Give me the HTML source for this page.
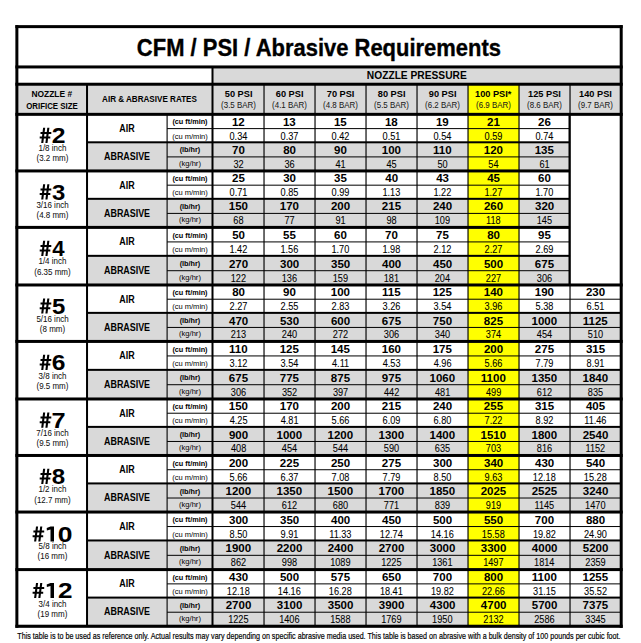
<!DOCTYPE html>
<html><head><meta charset="utf-8"><title>CFM / PSI / Abrasive Requirements</title>
<style>
html,body{margin:0;padding:0;background:#fff;width:641px;height:643px;overflow:hidden}
svg{display:block}
text{font-family:"Liberation Sans",sans-serif}
</style></head><body>
<svg width="641" height="643" viewBox="0 0 641 643">
<rect x="0" y="0" width="641" height="643" fill="#fff"/>
<rect x="212.50" y="66.95" width="408.70" height="17.28" fill="#d9d9d9"/>
<rect x="16.87" y="84.23" width="604.33" height="30.11" fill="#d9d9d9"/>
<rect x="468.03" y="84.23" width="51.00" height="542.04" fill="#ffff00"/>
<rect x="87.03" y="142.30" width="125.47" height="28.64" fill="#d9d9d9"/>
<rect x="212.50" y="142.30" width="51.53" height="28.64" fill="#d9d9d9"/>
<rect x="264.03" y="142.30" width="51.00" height="28.64" fill="#d9d9d9"/>
<rect x="315.03" y="142.30" width="51.00" height="28.64" fill="#d9d9d9"/>
<rect x="366.03" y="142.30" width="51.00" height="28.64" fill="#d9d9d9"/>
<rect x="417.03" y="142.30" width="51.00" height="28.64" fill="#d9d9d9"/>
<rect x="519.03" y="142.30" width="51.00" height="28.64" fill="#d9d9d9"/>
<rect x="87.03" y="198.83" width="125.47" height="28.57" fill="#d9d9d9"/>
<rect x="212.50" y="198.83" width="51.53" height="28.57" fill="#d9d9d9"/>
<rect x="264.03" y="198.83" width="51.00" height="28.57" fill="#d9d9d9"/>
<rect x="315.03" y="198.83" width="51.00" height="28.57" fill="#d9d9d9"/>
<rect x="366.03" y="198.83" width="51.00" height="28.57" fill="#d9d9d9"/>
<rect x="417.03" y="198.83" width="51.00" height="28.57" fill="#d9d9d9"/>
<rect x="519.03" y="198.83" width="51.00" height="28.57" fill="#d9d9d9"/>
<rect x="87.03" y="255.84" width="125.47" height="29.14" fill="#d9d9d9"/>
<rect x="212.50" y="255.84" width="51.53" height="29.14" fill="#d9d9d9"/>
<rect x="264.03" y="255.84" width="51.00" height="29.14" fill="#d9d9d9"/>
<rect x="315.03" y="255.84" width="51.00" height="29.14" fill="#d9d9d9"/>
<rect x="366.03" y="255.84" width="51.00" height="29.14" fill="#d9d9d9"/>
<rect x="417.03" y="255.84" width="51.00" height="29.14" fill="#d9d9d9"/>
<rect x="519.03" y="255.84" width="51.00" height="29.14" fill="#d9d9d9"/>
<rect x="87.03" y="312.87" width="125.47" height="28.56" fill="#d9d9d9"/>
<rect x="212.50" y="312.87" width="51.53" height="28.56" fill="#d9d9d9"/>
<rect x="264.03" y="312.87" width="51.00" height="28.56" fill="#d9d9d9"/>
<rect x="315.03" y="312.87" width="51.00" height="28.56" fill="#d9d9d9"/>
<rect x="366.03" y="312.87" width="51.00" height="28.56" fill="#d9d9d9"/>
<rect x="417.03" y="312.87" width="51.00" height="28.56" fill="#d9d9d9"/>
<rect x="519.03" y="312.87" width="51.00" height="28.56" fill="#d9d9d9"/>
<rect x="570.03" y="312.87" width="51.17" height="28.56" fill="#d9d9d9"/>
<rect x="87.03" y="369.86" width="125.47" height="29.12" fill="#d9d9d9"/>
<rect x="212.50" y="369.86" width="51.53" height="29.12" fill="#d9d9d9"/>
<rect x="264.03" y="369.86" width="51.00" height="29.12" fill="#d9d9d9"/>
<rect x="315.03" y="369.86" width="51.00" height="29.12" fill="#d9d9d9"/>
<rect x="366.03" y="369.86" width="51.00" height="29.12" fill="#d9d9d9"/>
<rect x="417.03" y="369.86" width="51.00" height="29.12" fill="#d9d9d9"/>
<rect x="519.03" y="369.86" width="51.00" height="29.12" fill="#d9d9d9"/>
<rect x="570.03" y="369.86" width="51.17" height="29.12" fill="#d9d9d9"/>
<rect x="87.03" y="426.89" width="125.47" height="28.58" fill="#d9d9d9"/>
<rect x="212.50" y="426.89" width="51.53" height="28.58" fill="#d9d9d9"/>
<rect x="264.03" y="426.89" width="51.00" height="28.58" fill="#d9d9d9"/>
<rect x="315.03" y="426.89" width="51.00" height="28.58" fill="#d9d9d9"/>
<rect x="366.03" y="426.89" width="51.00" height="28.58" fill="#d9d9d9"/>
<rect x="417.03" y="426.89" width="51.00" height="28.58" fill="#d9d9d9"/>
<rect x="519.03" y="426.89" width="51.00" height="28.58" fill="#d9d9d9"/>
<rect x="570.03" y="426.89" width="51.17" height="28.58" fill="#d9d9d9"/>
<rect x="87.03" y="483.42" width="125.47" height="28.62" fill="#d9d9d9"/>
<rect x="212.50" y="483.42" width="51.53" height="28.62" fill="#d9d9d9"/>
<rect x="264.03" y="483.42" width="51.00" height="28.62" fill="#d9d9d9"/>
<rect x="315.03" y="483.42" width="51.00" height="28.62" fill="#d9d9d9"/>
<rect x="366.03" y="483.42" width="51.00" height="28.62" fill="#d9d9d9"/>
<rect x="417.03" y="483.42" width="51.00" height="28.62" fill="#d9d9d9"/>
<rect x="519.03" y="483.42" width="51.00" height="28.62" fill="#d9d9d9"/>
<rect x="570.03" y="483.42" width="51.17" height="28.62" fill="#d9d9d9"/>
<rect x="87.03" y="540.47" width="125.47" height="29.12" fill="#d9d9d9"/>
<rect x="212.50" y="540.47" width="51.53" height="29.12" fill="#d9d9d9"/>
<rect x="264.03" y="540.47" width="51.00" height="29.12" fill="#d9d9d9"/>
<rect x="315.03" y="540.47" width="51.00" height="29.12" fill="#d9d9d9"/>
<rect x="366.03" y="540.47" width="51.00" height="29.12" fill="#d9d9d9"/>
<rect x="417.03" y="540.47" width="51.00" height="29.12" fill="#d9d9d9"/>
<rect x="519.03" y="540.47" width="51.00" height="29.12" fill="#d9d9d9"/>
<rect x="570.03" y="540.47" width="51.17" height="29.12" fill="#d9d9d9"/>
<rect x="87.03" y="597.59" width="125.47" height="28.68" fill="#d9d9d9"/>
<rect x="212.50" y="597.59" width="51.53" height="28.68" fill="#d9d9d9"/>
<rect x="264.03" y="597.59" width="51.00" height="28.68" fill="#d9d9d9"/>
<rect x="315.03" y="597.59" width="51.00" height="28.68" fill="#d9d9d9"/>
<rect x="366.03" y="597.59" width="51.00" height="28.68" fill="#d9d9d9"/>
<rect x="417.03" y="597.59" width="51.00" height="28.68" fill="#d9d9d9"/>
<rect x="519.03" y="597.59" width="51.00" height="28.68" fill="#d9d9d9"/>
<rect x="570.03" y="597.59" width="51.17" height="28.68" fill="#d9d9d9"/>
<rect x="263.45" y="84.23" width="1.15" height="542.04" fill="#000"/>
<rect x="314.45" y="84.23" width="1.15" height="542.04" fill="#000"/>
<rect x="365.45" y="84.23" width="1.15" height="542.04" fill="#000"/>
<rect x="416.45" y="84.23" width="1.15" height="542.04" fill="#000"/>
<rect x="467.45" y="84.23" width="1.15" height="542.04" fill="#000"/>
<rect x="518.45" y="84.23" width="1.15" height="542.04" fill="#000"/>
<rect x="569.45" y="84.23" width="1.15" height="542.04" fill="#000"/>
<rect x="166.55" y="114.34" width="1.10" height="511.93" fill="#000"/>
<rect x="167.10" y="128.10" width="402.93" height="1.00" fill="#000"/>
<rect x="167.10" y="156.40" width="402.93" height="1.00" fill="#000"/>
<rect x="87.03" y="141.30" width="483.00" height="2.00" fill="#000"/>
<rect x="15.37" y="112.84" width="607.33" height="3.00" fill="#000"/>
<rect x="167.10" y="184.67" width="402.93" height="1.00" fill="#000"/>
<rect x="167.10" y="212.90" width="402.93" height="1.00" fill="#000"/>
<rect x="87.03" y="197.83" width="483.00" height="2.00" fill="#000"/>
<rect x="15.37" y="169.44" width="554.66" height="3.00" fill="#000"/>
<rect x="167.10" y="241.41" width="402.93" height="1.00" fill="#000"/>
<rect x="167.10" y="270.20" width="402.93" height="1.00" fill="#000"/>
<rect x="87.03" y="254.84" width="483.00" height="2.00" fill="#000"/>
<rect x="15.37" y="225.90" width="554.66" height="3.00" fill="#000"/>
<rect x="167.10" y="298.71" width="454.10" height="1.00" fill="#000"/>
<rect x="167.10" y="326.93" width="454.10" height="1.00" fill="#000"/>
<rect x="87.03" y="311.87" width="534.17" height="2.00" fill="#000"/>
<rect x="15.37" y="283.48" width="607.33" height="3.00" fill="#000"/>
<rect x="167.10" y="355.43" width="454.10" height="1.00" fill="#000"/>
<rect x="167.10" y="384.21" width="454.10" height="1.00" fill="#000"/>
<rect x="87.03" y="368.86" width="534.17" height="2.00" fill="#000"/>
<rect x="15.37" y="339.93" width="607.33" height="3.00" fill="#000"/>
<rect x="167.10" y="412.72" width="454.10" height="1.00" fill="#000"/>
<rect x="167.10" y="440.96" width="454.10" height="1.00" fill="#000"/>
<rect x="87.03" y="425.89" width="534.17" height="2.00" fill="#000"/>
<rect x="15.37" y="397.48" width="607.33" height="3.00" fill="#000"/>
<rect x="167.10" y="469.23" width="454.10" height="1.00" fill="#000"/>
<rect x="167.10" y="497.51" width="454.10" height="1.00" fill="#000"/>
<rect x="87.03" y="482.42" width="534.17" height="2.00" fill="#000"/>
<rect x="15.37" y="453.97" width="607.33" height="3.00" fill="#000"/>
<rect x="167.10" y="526.04" width="454.10" height="1.00" fill="#000"/>
<rect x="167.10" y="554.82" width="454.10" height="1.00" fill="#000"/>
<rect x="87.03" y="539.47" width="534.17" height="2.00" fill="#000"/>
<rect x="15.37" y="510.54" width="607.33" height="3.00" fill="#000"/>
<rect x="167.10" y="583.37" width="454.10" height="1.00" fill="#000"/>
<rect x="167.10" y="611.71" width="454.10" height="1.00" fill="#000"/>
<rect x="87.03" y="596.59" width="534.17" height="2.00" fill="#000"/>
<rect x="15.37" y="568.09" width="607.33" height="3.00" fill="#000"/>
<rect x="568.50" y="114.34" width="2.00" height="170.64" fill="#000"/>
<rect x="211.50" y="66.95" width="2.00" height="559.32" fill="#000"/>
<rect x="86.03" y="84.23" width="2.00" height="542.04" fill="#000"/>
<rect x="15.37" y="25.13" width="607.33" height="3.00" fill="#000"/>
<rect x="15.37" y="65.45" width="607.33" height="3.00" fill="#000"/>
<rect x="15.37" y="82.73" width="607.33" height="3.00" fill="#000"/>
<rect x="15.37" y="624.72" width="607.33" height="3.10" fill="#000"/>
<rect x="15.37" y="25.13" width="3.00" height="602.69" fill="#000"/>
<rect x="619.70" y="25.13" width="3.00" height="602.69" fill="#000"/>
<text transform="translate(136.87,55.60) scale(0.9553,1)" font-size="23.00" font-weight="bold" fill="#000" stroke="#000" stroke-width="0.35">CFM / PSI / Abrasive Requirements</text>
<text transform="translate(366.82,79.00) scale(0.9936,1)" font-size="10.30" font-weight="bold" fill="#000">NOZZLE PRESSURE</text>
<text transform="translate(31.44,96.80) scale(0.9675,1)" font-size="8.70" font-weight="bold" fill="#000">NOZZLE #</text>
<text transform="translate(26.19,109.00) scale(0.9049,1)" font-size="8.70" font-weight="bold" fill="#000">ORIFICE SIZE</text>
<text transform="translate(102.04,101.70) scale(0.9317,1)" font-size="8.70" font-weight="bold" fill="#000">AIR &amp; ABRASIVE RATES</text>
<text transform="translate(224.82,97.00) scale(0.9411,1)" font-size="9.80" font-weight="bold" fill="#000">50 PSI</text>
<text transform="translate(221.11,108.40) scale(0.9658,1)" font-size="8.20" font-weight="normal" fill="#1a1a1a" stroke="#1a1a1a" stroke-width="0.05">(3.5 BAR)</text>
<text transform="translate(275.80,97.00) scale(0.9411,1)" font-size="9.80" font-weight="bold" fill="#000">60 PSI</text>
<text transform="translate(272.11,108.40) scale(0.9658,1)" font-size="8.20" font-weight="normal" fill="#1a1a1a" stroke="#1a1a1a" stroke-width="0.05">(4.1 BAR)</text>
<text transform="translate(326.77,97.00) scale(0.9411,1)" font-size="9.80" font-weight="bold" fill="#000">70 PSI</text>
<text transform="translate(323.11,108.40) scale(0.9658,1)" font-size="8.20" font-weight="normal" fill="#1a1a1a" stroke="#1a1a1a" stroke-width="0.05">(4.8 BAR)</text>
<text transform="translate(377.81,97.00) scale(0.9411,1)" font-size="9.80" font-weight="bold" fill="#000">80 PSI</text>
<text transform="translate(374.11,108.40) scale(0.9658,1)" font-size="8.20" font-weight="normal" fill="#1a1a1a" stroke="#1a1a1a" stroke-width="0.05">(5.5 BAR)</text>
<text transform="translate(428.80,97.00) scale(0.9411,1)" font-size="9.80" font-weight="bold" fill="#000">90 PSI</text>
<text transform="translate(425.11,108.40) scale(0.9658,1)" font-size="8.20" font-weight="normal" fill="#1a1a1a" stroke="#1a1a1a" stroke-width="0.05">(6.2 BAR)</text>
<text transform="translate(475.02,97.00) scale(0.9411,1)" font-size="9.80" font-weight="bold" fill="#000">100 PSI*</text>
<text transform="translate(476.11,108.40) scale(0.9658,1)" font-size="8.20" font-weight="normal" fill="#1a1a1a" stroke="#1a1a1a" stroke-width="0.05">(6.9 BAR)</text>
<text transform="translate(528.11,97.00) scale(0.9411,1)" font-size="9.80" font-weight="bold" fill="#000">125 PSI</text>
<text transform="translate(527.11,108.40) scale(0.9658,1)" font-size="8.20" font-weight="normal" fill="#1a1a1a" stroke="#1a1a1a" stroke-width="0.05">(8.6 BAR)</text>
<text transform="translate(579.11,97.00) scale(0.9411,1)" font-size="9.80" font-weight="bold" fill="#000">140 PSI</text>
<text transform="translate(578.11,108.40) scale(0.9658,1)" font-size="8.20" font-weight="normal" fill="#1a1a1a" stroke="#1a1a1a" stroke-width="0.05">(9.7 BAR)</text>
<path d="M43.10,127.80 L45.20,127.80 L43.30,143.00 L41.20,143.00 Z M47.30,127.80 L49.40,127.80 L47.50,143.00 L45.40,143.00 Z M40.50,131.90 L51.30,131.90 L51.30,133.90 L40.50,133.90 Z M39.70,136.60 L50.30,136.60 L50.30,138.60 L39.70,138.60 Z" fill="#000" shape-rendering="geometricPrecision"/>
<text transform="translate(51.76,143.00) scale(1.1325,1)" font-size="21.80" font-weight="bold" fill="#000">2</text>
<text transform="translate(38.45,151.20) scale(0.9631,1)" font-size="8.30" font-weight="normal" fill="#111" stroke="#111" stroke-width="0.05">1/8 inch</text>
<text transform="translate(36.50,160.70) scale(0.9631,1)" font-size="8.30" font-weight="normal" fill="#111" stroke="#111" stroke-width="0.05">(3.2 mm)</text>
<text transform="translate(119.29,131.97) scale(0.8830,1)" font-size="10.10" font-weight="bold" fill="#000">AIR</text>
<text transform="translate(104.02,160.17) scale(0.8830,1)" font-size="10.10" font-weight="bold" fill="#000">ABRASIVE</text>
<text transform="translate(172.39,124.37) scale(0.9983,1)" font-size="7.30" font-weight="bold" fill="#000">(cu ft/min)</text>
<text transform="translate(172.13,138.60) scale(1.0363,1)" font-size="7.30" font-weight="normal" fill="#000">(cu m/min)</text>
<text transform="translate(179.67,152.45) scale(0.9983,1)" font-size="7.30" font-weight="bold" fill="#000">(lb/hr)</text>
<text transform="translate(179.07,165.92) scale(1.0363,1)" font-size="7.30" font-weight="normal" fill="#000">(kg/hr)</text>
<text transform="translate(231.96,125.77) scale(1.0684,1)" font-size="10.80" font-weight="bold" fill="#000">12</text>
<text transform="translate(229.52,139.60) scale(0.9002,1)" font-size="10.20" font-weight="normal" fill="#000" stroke="#000" stroke-width="0.08">0.34</text>
<text transform="translate(232.07,153.95) scale(1.0684,1)" font-size="10.80" font-weight="bold" fill="#000">70</text>
<text transform="translate(233.45,167.72) scale(0.9002,1)" font-size="10.20" font-weight="normal" fill="#000" stroke="#000" stroke-width="0.08">32</text>
<text transform="translate(282.93,125.77) scale(1.0684,1)" font-size="10.80" font-weight="bold" fill="#000">13</text>
<text transform="translate(280.62,139.60) scale(0.9002,1)" font-size="10.20" font-weight="normal" fill="#000" stroke="#000" stroke-width="0.08">0.37</text>
<text transform="translate(283.13,153.95) scale(1.0684,1)" font-size="10.80" font-weight="bold" fill="#000">80</text>
<text transform="translate(284.42,167.72) scale(0.9002,1)" font-size="10.20" font-weight="normal" fill="#000" stroke="#000" stroke-width="0.08">36</text>
<text transform="translate(333.89,125.77) scale(1.0684,1)" font-size="10.80" font-weight="bold" fill="#000">15</text>
<text transform="translate(331.62,139.60) scale(0.9002,1)" font-size="10.20" font-weight="normal" fill="#000" stroke="#000" stroke-width="0.08">0.42</text>
<text transform="translate(334.12,153.95) scale(1.0684,1)" font-size="10.80" font-weight="bold" fill="#000">90</text>
<text transform="translate(335.51,167.72) scale(0.9002,1)" font-size="10.20" font-weight="normal" fill="#000" stroke="#000" stroke-width="0.08">41</text>
<text transform="translate(384.90,125.77) scale(1.0684,1)" font-size="10.80" font-weight="bold" fill="#000">18</text>
<text transform="translate(382.61,139.60) scale(0.9002,1)" font-size="10.20" font-weight="normal" fill="#000" stroke="#000" stroke-width="0.08">0.51</text>
<text transform="translate(381.75,153.95) scale(1.0684,1)" font-size="10.80" font-weight="bold" fill="#000">100</text>
<text transform="translate(386.49,167.72) scale(0.9002,1)" font-size="10.20" font-weight="normal" fill="#000" stroke="#000" stroke-width="0.08">45</text>
<text transform="translate(435.93,125.77) scale(1.0684,1)" font-size="10.80" font-weight="bold" fill="#000">19</text>
<text transform="translate(433.52,139.60) scale(0.9002,1)" font-size="10.20" font-weight="normal" fill="#000" stroke="#000" stroke-width="0.08">0.54</text>
<text transform="translate(433.06,153.95) scale(1.0684,1)" font-size="10.80" font-weight="bold" fill="#000">110</text>
<text transform="translate(437.39,167.72) scale(0.9002,1)" font-size="10.20" font-weight="normal" fill="#000" stroke="#000" stroke-width="0.08">50</text>
<text transform="translate(487.05,125.77) scale(1.0684,1)" font-size="10.80" font-weight="bold" fill="#000">21</text>
<text transform="translate(484.61,139.60) scale(0.9002,1)" font-size="10.20" font-weight="normal" fill="#000" stroke="#000" stroke-width="0.08">0.59</text>
<text transform="translate(483.75,153.95) scale(1.0684,1)" font-size="10.80" font-weight="bold" fill="#000">120</text>
<text transform="translate(488.34,167.72) scale(0.9002,1)" font-size="10.20" font-weight="normal" fill="#000" stroke="#000" stroke-width="0.08">54</text>
<text transform="translate(538.10,125.77) scale(1.0684,1)" font-size="10.80" font-weight="bold" fill="#000">26</text>
<text transform="translate(535.52,139.60) scale(0.9002,1)" font-size="10.20" font-weight="normal" fill="#000" stroke="#000" stroke-width="0.08">0.74</text>
<text transform="translate(534.68,153.95) scale(1.0684,1)" font-size="10.80" font-weight="bold" fill="#000">135</text>
<text transform="translate(539.39,167.72) scale(0.9002,1)" font-size="10.20" font-weight="normal" fill="#000" stroke="#000" stroke-width="0.08">61</text>
<path d="M43.10,184.30 L45.20,184.30 L43.30,199.50 L41.20,199.50 Z M47.30,184.30 L49.40,184.30 L47.50,199.50 L45.40,199.50 Z M40.50,188.40 L51.30,188.40 L51.30,190.40 L40.50,190.40 Z M39.70,193.10 L50.30,193.10 L50.30,195.10 L39.70,195.10 Z" fill="#000" shape-rendering="geometricPrecision"/>
<text transform="translate(52.07,199.50) scale(1.0961,1)" font-size="21.80" font-weight="bold" fill="#000">3</text>
<text transform="translate(36.38,207.80) scale(0.9631,1)" font-size="8.30" font-weight="normal" fill="#111" stroke="#111" stroke-width="0.05">3/16 inch</text>
<text transform="translate(36.50,218.30) scale(0.9631,1)" font-size="8.30" font-weight="normal" fill="#111" stroke="#111" stroke-width="0.05">(4.8 mm)</text>
<text transform="translate(119.29,188.54) scale(0.8830,1)" font-size="10.10" font-weight="bold" fill="#000">AIR</text>
<text transform="translate(104.02,216.67) scale(0.8830,1)" font-size="10.10" font-weight="bold" fill="#000">ABRASIVE</text>
<text transform="translate(172.39,180.95) scale(0.9983,1)" font-size="7.30" font-weight="bold" fill="#000">(cu ft/min)</text>
<text transform="translate(172.13,195.15) scale(1.0363,1)" font-size="7.30" font-weight="normal" fill="#000">(cu m/min)</text>
<text transform="translate(179.67,208.96) scale(0.9983,1)" font-size="7.30" font-weight="bold" fill="#000">(lb/hr)</text>
<text transform="translate(179.07,222.40) scale(1.0363,1)" font-size="7.30" font-weight="normal" fill="#000">(kg/hr)</text>
<text transform="translate(232.05,182.35) scale(1.0684,1)" font-size="10.80" font-weight="bold" fill="#000">25</text>
<text transform="translate(229.61,196.15) scale(0.9002,1)" font-size="10.20" font-weight="normal" fill="#000" stroke="#000" stroke-width="0.08">0.71</text>
<text transform="translate(228.75,210.46) scale(1.0684,1)" font-size="10.80" font-weight="bold" fill="#000">150</text>
<text transform="translate(233.37,224.20) scale(0.9002,1)" font-size="10.20" font-weight="normal" fill="#000" stroke="#000" stroke-width="0.08">68</text>
<text transform="translate(283.19,182.35) scale(1.0684,1)" font-size="10.80" font-weight="bold" fill="#000">30</text>
<text transform="translate(280.58,196.15) scale(0.9002,1)" font-size="10.20" font-weight="normal" fill="#000" stroke="#000" stroke-width="0.08">0.85</text>
<text transform="translate(279.75,210.46) scale(1.0684,1)" font-size="10.80" font-weight="bold" fill="#000">170</text>
<text transform="translate(284.39,224.20) scale(0.9002,1)" font-size="10.20" font-weight="normal" fill="#000" stroke="#000" stroke-width="0.08">77</text>
<text transform="translate(334.12,182.35) scale(1.0684,1)" font-size="10.80" font-weight="bold" fill="#000">35</text>
<text transform="translate(331.61,196.15) scale(0.9002,1)" font-size="10.20" font-weight="normal" fill="#000" stroke="#000" stroke-width="0.08">0.99</text>
<text transform="translate(330.91,210.46) scale(1.0684,1)" font-size="10.80" font-weight="bold" fill="#000">200</text>
<text transform="translate(335.40,224.20) scale(0.9002,1)" font-size="10.20" font-weight="normal" fill="#000" stroke="#000" stroke-width="0.08">91</text>
<text transform="translate(385.23,182.35) scale(1.0684,1)" font-size="10.80" font-weight="bold" fill="#000">40</text>
<text transform="translate(382.42,196.15) scale(0.9002,1)" font-size="10.20" font-weight="normal" fill="#000" stroke="#000" stroke-width="0.08">1.13</text>
<text transform="translate(381.84,210.46) scale(1.0684,1)" font-size="10.80" font-weight="bold" fill="#000">215</text>
<text transform="translate(386.39,224.20) scale(0.9002,1)" font-size="10.20" font-weight="normal" fill="#000" stroke="#000" stroke-width="0.08">98</text>
<text transform="translate(436.21,182.35) scale(1.0684,1)" font-size="10.80" font-weight="bold" fill="#000">43</text>
<text transform="translate(433.45,196.15) scale(0.9002,1)" font-size="10.20" font-weight="normal" fill="#000" stroke="#000" stroke-width="0.08">1.22</text>
<text transform="translate(432.91,210.46) scale(1.0684,1)" font-size="10.80" font-weight="bold" fill="#000">240</text>
<text transform="translate(434.71,224.20) scale(0.9002,1)" font-size="10.20" font-weight="normal" fill="#000" stroke="#000" stroke-width="0.08">109</text>
<text transform="translate(487.17,182.35) scale(1.0684,1)" font-size="10.80" font-weight="bold" fill="#000">45</text>
<text transform="translate(484.45,196.15) scale(0.9002,1)" font-size="10.20" font-weight="normal" fill="#000" stroke="#000" stroke-width="0.08">1.27</text>
<text transform="translate(483.91,210.46) scale(1.0684,1)" font-size="10.80" font-weight="bold" fill="#000">260</text>
<text transform="translate(486.03,224.20) scale(0.9002,1)" font-size="10.20" font-weight="normal" fill="#000" stroke="#000" stroke-width="0.08">118</text>
<text transform="translate(538.11,182.35) scale(1.0684,1)" font-size="10.80" font-weight="bold" fill="#000">60</text>
<text transform="translate(535.39,196.15) scale(0.9002,1)" font-size="10.20" font-weight="normal" fill="#000" stroke="#000" stroke-width="0.08">1.70</text>
<text transform="translate(534.98,210.46) scale(1.0684,1)" font-size="10.80" font-weight="bold" fill="#000">320</text>
<text transform="translate(536.69,224.20) scale(0.9002,1)" font-size="10.20" font-weight="normal" fill="#000" stroke="#000" stroke-width="0.08">145</text>
<path d="M43.10,240.80 L45.20,240.80 L43.30,256.00 L41.20,256.00 Z M47.30,240.80 L49.40,240.80 L47.50,256.00 L45.40,256.00 Z M40.50,244.90 L51.30,244.90 L51.30,246.90 L40.50,246.90 Z M39.70,249.60 L50.30,249.60 L50.30,251.60 L39.70,251.60 Z" fill="#000" shape-rendering="geometricPrecision"/>
<text transform="translate(52.29,256.00) scale(1.0184,1)" font-size="21.80" font-weight="bold" fill="#000">4</text>
<text transform="translate(38.45,264.20) scale(0.9631,1)" font-size="8.30" font-weight="normal" fill="#111" stroke="#111" stroke-width="0.05">1/4 inch</text>
<text transform="translate(34.28,275.00) scale(0.9631,1)" font-size="8.30" font-weight="normal" fill="#111" stroke="#111" stroke-width="0.05">(6.35 mm)</text>
<text transform="translate(119.29,245.27) scale(0.8830,1)" font-size="10.10" font-weight="bold" fill="#000">AIR</text>
<text transform="translate(104.02,273.96) scale(0.8830,1)" font-size="10.10" font-weight="bold" fill="#000">ABRASIVE</text>
<text transform="translate(172.39,237.56) scale(0.9983,1)" font-size="7.30" font-weight="bold" fill="#000">(cu ft/min)</text>
<text transform="translate(172.13,252.03) scale(1.0363,1)" font-size="7.30" font-weight="normal" fill="#000">(cu m/min)</text>
<text transform="translate(179.67,266.12) scale(0.9983,1)" font-size="7.30" font-weight="bold" fill="#000">(lb/hr)</text>
<text transform="translate(179.07,279.84) scale(1.0363,1)" font-size="7.30" font-weight="normal" fill="#000">(kg/hr)</text>
<text transform="translate(232.14,238.96) scale(1.0684,1)" font-size="10.80" font-weight="bold" fill="#000">50</text>
<text transform="translate(229.45,253.03) scale(0.9002,1)" font-size="10.20" font-weight="normal" fill="#000" stroke="#000" stroke-width="0.08">1.42</text>
<text transform="translate(228.91,267.62) scale(1.0684,1)" font-size="10.80" font-weight="bold" fill="#000">270</text>
<text transform="translate(230.72,281.64) scale(0.9002,1)" font-size="10.20" font-weight="normal" fill="#000" stroke="#000" stroke-width="0.08">122</text>
<text transform="translate(283.07,238.96) scale(1.0684,1)" font-size="10.80" font-weight="bold" fill="#000">55</text>
<text transform="translate(280.42,253.03) scale(0.9002,1)" font-size="10.20" font-weight="normal" fill="#000" stroke="#000" stroke-width="0.08">1.56</text>
<text transform="translate(279.98,267.62) scale(1.0684,1)" font-size="10.80" font-weight="bold" fill="#000">300</text>
<text transform="translate(281.69,281.64) scale(0.9002,1)" font-size="10.20" font-weight="normal" fill="#000" stroke="#000" stroke-width="0.08">136</text>
<text transform="translate(334.11,238.96) scale(1.0684,1)" font-size="10.80" font-weight="bold" fill="#000">60</text>
<text transform="translate(331.39,253.03) scale(0.9002,1)" font-size="10.20" font-weight="normal" fill="#000" stroke="#000" stroke-width="0.08">1.70</text>
<text transform="translate(330.98,267.62) scale(1.0684,1)" font-size="10.80" font-weight="bold" fill="#000">350</text>
<text transform="translate(332.71,281.64) scale(0.9002,1)" font-size="10.20" font-weight="normal" fill="#000" stroke="#000" stroke-width="0.08">159</text>
<text transform="translate(385.07,238.96) scale(1.0684,1)" font-size="10.80" font-weight="bold" fill="#000">70</text>
<text transform="translate(382.42,253.03) scale(0.9002,1)" font-size="10.20" font-weight="normal" fill="#000" stroke="#000" stroke-width="0.08">1.98</text>
<text transform="translate(382.03,267.62) scale(1.0684,1)" font-size="10.80" font-weight="bold" fill="#000">400</text>
<text transform="translate(383.71,281.64) scale(0.9002,1)" font-size="10.20" font-weight="normal" fill="#000" stroke="#000" stroke-width="0.08">181</text>
<text transform="translate(436.00,238.96) scale(1.0684,1)" font-size="10.80" font-weight="bold" fill="#000">75</text>
<text transform="translate(433.57,253.03) scale(0.9002,1)" font-size="10.20" font-weight="normal" fill="#000" stroke="#000" stroke-width="0.08">2.12</text>
<text transform="translate(433.03,267.62) scale(1.0684,1)" font-size="10.80" font-weight="bold" fill="#000">450</text>
<text transform="translate(434.74,281.64) scale(0.9002,1)" font-size="10.20" font-weight="normal" fill="#000" stroke="#000" stroke-width="0.08">204</text>
<text transform="translate(487.13,238.96) scale(1.0684,1)" font-size="10.80" font-weight="bold" fill="#000">80</text>
<text transform="translate(484.57,253.03) scale(0.9002,1)" font-size="10.20" font-weight="normal" fill="#000" stroke="#000" stroke-width="0.08">2.27</text>
<text transform="translate(483.93,267.62) scale(1.0684,1)" font-size="10.80" font-weight="bold" fill="#000">500</text>
<text transform="translate(485.84,281.64) scale(0.9002,1)" font-size="10.20" font-weight="normal" fill="#000" stroke="#000" stroke-width="0.08">227</text>
<text transform="translate(538.05,238.96) scale(1.0684,1)" font-size="10.80" font-weight="bold" fill="#000">95</text>
<text transform="translate(535.56,253.03) scale(0.9002,1)" font-size="10.20" font-weight="normal" fill="#000" stroke="#000" stroke-width="0.08">2.69</text>
<text transform="translate(534.83,267.62) scale(1.0684,1)" font-size="10.80" font-weight="bold" fill="#000">675</text>
<text transform="translate(536.87,281.64) scale(0.9002,1)" font-size="10.20" font-weight="normal" fill="#000" stroke="#000" stroke-width="0.08">306</text>
<path d="M43.10,298.40 L45.20,298.40 L43.30,313.60 L41.20,313.60 Z M47.30,298.40 L49.40,298.40 L47.50,313.60 L45.40,313.60 Z M40.50,302.50 L51.30,302.50 L51.30,304.50 L40.50,304.50 Z M39.70,307.20 L50.30,307.20 L50.30,309.20 L39.70,309.20 Z" fill="#000" shape-rendering="geometricPrecision"/>
<text transform="translate(51.88,313.60) scale(1.0961,1)" font-size="21.80" font-weight="bold" fill="#000">5</text>
<text transform="translate(36.38,321.80) scale(0.9631,1)" font-size="8.30" font-weight="normal" fill="#111" stroke="#111" stroke-width="0.05">5/16 inch</text>
<text transform="translate(39.84,331.80) scale(0.9631,1)" font-size="8.30" font-weight="normal" fill="#111" stroke="#111" stroke-width="0.05">(8 mm)</text>
<text transform="translate(119.29,302.57) scale(0.8830,1)" font-size="10.10" font-weight="bold" fill="#000">AIR</text>
<text transform="translate(104.02,330.70) scale(0.8830,1)" font-size="10.10" font-weight="bold" fill="#000">ABRASIVE</text>
<text transform="translate(172.39,294.99) scale(0.9983,1)" font-size="7.30" font-weight="bold" fill="#000">(cu ft/min)</text>
<text transform="translate(172.13,309.19) scale(1.0363,1)" font-size="7.30" font-weight="normal" fill="#000">(cu m/min)</text>
<text transform="translate(179.67,323.00) scale(0.9983,1)" font-size="7.30" font-weight="bold" fill="#000">(lb/hr)</text>
<text transform="translate(179.07,336.43) scale(1.0363,1)" font-size="7.30" font-weight="normal" fill="#000">(kg/hr)</text>
<text transform="translate(232.13,296.39) scale(1.0684,1)" font-size="10.80" font-weight="bold" fill="#000">80</text>
<text transform="translate(229.57,310.19) scale(0.9002,1)" font-size="10.20" font-weight="normal" fill="#000" stroke="#000" stroke-width="0.08">2.27</text>
<text transform="translate(229.03,324.50) scale(1.0684,1)" font-size="10.80" font-weight="bold" fill="#000">470</text>
<text transform="translate(230.81,338.23) scale(0.9002,1)" font-size="10.20" font-weight="normal" fill="#000" stroke="#000" stroke-width="0.08">213</text>
<text transform="translate(283.12,296.39) scale(1.0684,1)" font-size="10.80" font-weight="bold" fill="#000">90</text>
<text transform="translate(280.53,310.19) scale(0.9002,1)" font-size="10.20" font-weight="normal" fill="#000" stroke="#000" stroke-width="0.08">2.55</text>
<text transform="translate(279.93,324.50) scale(1.0684,1)" font-size="10.80" font-weight="bold" fill="#000">530</text>
<text transform="translate(281.79,338.23) scale(0.9002,1)" font-size="10.20" font-weight="normal" fill="#000" stroke="#000" stroke-width="0.08">240</text>
<text transform="translate(330.75,296.39) scale(1.0684,1)" font-size="10.80" font-weight="bold" fill="#000">100</text>
<text transform="translate(331.54,310.19) scale(0.9002,1)" font-size="10.20" font-weight="normal" fill="#000" stroke="#000" stroke-width="0.08">2.83</text>
<text transform="translate(330.90,324.50) scale(1.0684,1)" font-size="10.80" font-weight="bold" fill="#000">600</text>
<text transform="translate(332.84,338.23) scale(0.9002,1)" font-size="10.20" font-weight="normal" fill="#000" stroke="#000" stroke-width="0.08">272</text>
<text transform="translate(381.99,296.39) scale(1.0684,1)" font-size="10.80" font-weight="bold" fill="#000">115</text>
<text transform="translate(382.59,310.19) scale(0.9002,1)" font-size="10.20" font-weight="normal" fill="#000" stroke="#000" stroke-width="0.08">3.26</text>
<text transform="translate(381.83,324.50) scale(1.0684,1)" font-size="10.80" font-weight="bold" fill="#000">675</text>
<text transform="translate(383.87,338.23) scale(0.9002,1)" font-size="10.20" font-weight="normal" fill="#000" stroke="#000" stroke-width="0.08">306</text>
<text transform="translate(432.68,296.39) scale(1.0684,1)" font-size="10.80" font-weight="bold" fill="#000">125</text>
<text transform="translate(433.52,310.19) scale(0.9002,1)" font-size="10.20" font-weight="normal" fill="#000" stroke="#000" stroke-width="0.08">3.54</text>
<text transform="translate(432.87,324.50) scale(1.0684,1)" font-size="10.80" font-weight="bold" fill="#000">750</text>
<text transform="translate(434.84,338.23) scale(0.9002,1)" font-size="10.20" font-weight="normal" fill="#000" stroke="#000" stroke-width="0.08">340</text>
<text transform="translate(483.75,296.39) scale(1.0684,1)" font-size="10.80" font-weight="bold" fill="#000">140</text>
<text transform="translate(484.59,310.19) scale(0.9002,1)" font-size="10.20" font-weight="normal" fill="#000" stroke="#000" stroke-width="0.08">3.96</text>
<text transform="translate(483.85,324.50) scale(1.0684,1)" font-size="10.80" font-weight="bold" fill="#000">825</text>
<text transform="translate(485.80,338.23) scale(0.9002,1)" font-size="10.20" font-weight="normal" fill="#000" stroke="#000" stroke-width="0.08">374</text>
<text transform="translate(534.75,296.39) scale(1.0684,1)" font-size="10.80" font-weight="bold" fill="#000">190</text>
<text transform="translate(535.58,310.19) scale(0.9002,1)" font-size="10.20" font-weight="normal" fill="#000" stroke="#000" stroke-width="0.08">5.38</text>
<text transform="translate(531.54,324.50) scale(1.0684,1)" font-size="10.80" font-weight="bold" fill="#000">1000</text>
<text transform="translate(536.87,338.23) scale(0.9002,1)" font-size="10.20" font-weight="normal" fill="#000" stroke="#000" stroke-width="0.08">454</text>
<text transform="translate(585.91,296.39) scale(1.0684,1)" font-size="10.80" font-weight="bold" fill="#000">230</text>
<text transform="translate(586.56,310.19) scale(0.9002,1)" font-size="10.20" font-weight="normal" fill="#000" stroke="#000" stroke-width="0.08">6.51</text>
<text transform="translate(582.78,324.50) scale(1.0684,1)" font-size="10.80" font-weight="bold" fill="#000">1125</text>
<text transform="translate(587.83,338.23) scale(0.9002,1)" font-size="10.20" font-weight="normal" fill="#000" stroke="#000" stroke-width="0.08">510</text>
<path d="M43.10,354.80 L45.20,354.80 L43.30,370.00 L41.20,370.00 Z M47.30,354.80 L49.40,354.80 L47.50,370.00 L45.40,370.00 Z M40.50,358.90 L51.30,358.90 L51.30,360.90 L40.50,360.90 Z M39.70,363.60 L50.30,363.60 L50.30,365.60 L39.70,365.60 Z" fill="#000" shape-rendering="geometricPrecision"/>
<text transform="translate(51.71,370.00) scale(1.1278,1)" font-size="21.80" font-weight="bold" fill="#000">6</text>
<text transform="translate(38.61,379.00) scale(0.9631,1)" font-size="8.30" font-weight="normal" fill="#111" stroke="#111" stroke-width="0.05">3/8 inch</text>
<text transform="translate(36.50,389.00) scale(0.9631,1)" font-size="8.30" font-weight="normal" fill="#111" stroke="#111" stroke-width="0.05">(9.5 mm)</text>
<text transform="translate(119.29,359.29) scale(0.8830,1)" font-size="10.10" font-weight="bold" fill="#000">AIR</text>
<text transform="translate(104.02,387.97) scale(0.8830,1)" font-size="10.10" font-weight="bold" fill="#000">ABRASIVE</text>
<text transform="translate(172.39,351.58) scale(0.9983,1)" font-size="7.30" font-weight="bold" fill="#000">(cu ft/min)</text>
<text transform="translate(172.13,366.05) scale(1.0363,1)" font-size="7.30" font-weight="normal" fill="#000">(cu m/min)</text>
<text transform="translate(179.67,380.13) scale(0.9983,1)" font-size="7.30" font-weight="bold" fill="#000">(lb/hr)</text>
<text transform="translate(179.07,393.84) scale(1.0363,1)" font-size="7.30" font-weight="normal" fill="#000">(kg/hr)</text>
<text transform="translate(229.06,352.98) scale(1.0684,1)" font-size="10.80" font-weight="bold" fill="#000">110</text>
<text transform="translate(229.62,367.05) scale(0.9002,1)" font-size="10.20" font-weight="normal" fill="#000" stroke="#000" stroke-width="0.08">3.12</text>
<text transform="translate(228.83,381.63) scale(1.0684,1)" font-size="10.80" font-weight="bold" fill="#000">675</text>
<text transform="translate(230.87,395.64) scale(0.9002,1)" font-size="10.20" font-weight="normal" fill="#000" stroke="#000" stroke-width="0.08">306</text>
<text transform="translate(279.68,352.98) scale(1.0684,1)" font-size="10.80" font-weight="bold" fill="#000">125</text>
<text transform="translate(280.52,367.05) scale(0.9002,1)" font-size="10.20" font-weight="normal" fill="#000" stroke="#000" stroke-width="0.08">3.54</text>
<text transform="translate(279.80,381.63) scale(1.0684,1)" font-size="10.80" font-weight="bold" fill="#000">775</text>
<text transform="translate(281.90,395.64) scale(0.9002,1)" font-size="10.20" font-weight="normal" fill="#000" stroke="#000" stroke-width="0.08">352</text>
<text transform="translate(330.68,352.98) scale(1.0684,1)" font-size="10.80" font-weight="bold" fill="#000">145</text>
<text transform="translate(332.02,367.05) scale(0.9002,1)" font-size="10.20" font-weight="normal" fill="#000" stroke="#000" stroke-width="0.08">4.11</text>
<text transform="translate(330.85,381.63) scale(1.0684,1)" font-size="10.80" font-weight="bold" fill="#000">875</text>
<text transform="translate(332.90,395.64) scale(0.9002,1)" font-size="10.20" font-weight="normal" fill="#000" stroke="#000" stroke-width="0.08">397</text>
<text transform="translate(381.75,352.98) scale(1.0684,1)" font-size="10.80" font-weight="bold" fill="#000">160</text>
<text transform="translate(382.67,367.05) scale(0.9002,1)" font-size="10.20" font-weight="normal" fill="#000" stroke="#000" stroke-width="0.08">4.53</text>
<text transform="translate(381.84,381.63) scale(1.0684,1)" font-size="10.80" font-weight="bold" fill="#000">975</text>
<text transform="translate(383.97,395.64) scale(0.9002,1)" font-size="10.20" font-weight="normal" fill="#000" stroke="#000" stroke-width="0.08">442</text>
<text transform="translate(432.68,352.98) scale(1.0684,1)" font-size="10.80" font-weight="bold" fill="#000">175</text>
<text transform="translate(433.67,367.05) scale(0.9002,1)" font-size="10.20" font-weight="normal" fill="#000" stroke="#000" stroke-width="0.08">4.96</text>
<text transform="translate(429.54,381.63) scale(1.0684,1)" font-size="10.80" font-weight="bold" fill="#000">1060</text>
<text transform="translate(434.96,395.64) scale(0.9002,1)" font-size="10.20" font-weight="normal" fill="#000" stroke="#000" stroke-width="0.08">481</text>
<text transform="translate(483.91,352.98) scale(1.0684,1)" font-size="10.80" font-weight="bold" fill="#000">200</text>
<text transform="translate(484.58,367.05) scale(0.9002,1)" font-size="10.20" font-weight="normal" fill="#000" stroke="#000" stroke-width="0.08">5.66</text>
<text transform="translate(480.85,381.63) scale(1.0684,1)" font-size="10.80" font-weight="bold" fill="#000">1100</text>
<text transform="translate(485.96,395.64) scale(0.9002,1)" font-size="10.20" font-weight="normal" fill="#000" stroke="#000" stroke-width="0.08">499</text>
<text transform="translate(534.84,352.98) scale(1.0684,1)" font-size="10.80" font-weight="bold" fill="#000">275</text>
<text transform="translate(535.55,367.05) scale(0.9002,1)" font-size="10.20" font-weight="normal" fill="#000" stroke="#000" stroke-width="0.08">7.79</text>
<text transform="translate(531.54,381.63) scale(1.0684,1)" font-size="10.80" font-weight="bold" fill="#000">1350</text>
<text transform="translate(536.84,395.64) scale(0.9002,1)" font-size="10.20" font-weight="normal" fill="#000" stroke="#000" stroke-width="0.08">612</text>
<text transform="translate(585.91,352.98) scale(1.0684,1)" font-size="10.80" font-weight="bold" fill="#000">315</text>
<text transform="translate(586.58,367.05) scale(0.9002,1)" font-size="10.20" font-weight="normal" fill="#000" stroke="#000" stroke-width="0.08">8.91</text>
<text transform="translate(582.54,381.63) scale(1.0684,1)" font-size="10.80" font-weight="bold" fill="#000">1840</text>
<text transform="translate(587.83,395.64) scale(0.9002,1)" font-size="10.20" font-weight="normal" fill="#000" stroke="#000" stroke-width="0.08">835</text>
<path d="M43.10,412.50 L45.20,412.50 L43.30,427.70 L41.20,427.70 Z M47.30,412.50 L49.40,412.50 L47.50,427.70 L45.40,427.70 Z M40.50,416.60 L51.30,416.60 L51.30,418.60 L40.50,418.60 Z M39.70,421.30 L50.30,421.30 L50.30,423.30 L39.70,423.30 Z" fill="#000" shape-rendering="geometricPrecision"/>
<text transform="translate(51.54,427.70) scale(1.1614,1)" font-size="21.80" font-weight="bold" fill="#000">7</text>
<text transform="translate(36.33,436.00) scale(0.9631,1)" font-size="8.30" font-weight="normal" fill="#111" stroke="#111" stroke-width="0.05">7/16 inch</text>
<text transform="translate(36.50,445.50) scale(0.9631,1)" font-size="8.30" font-weight="normal" fill="#111" stroke="#111" stroke-width="0.05">(9.5 mm)</text>
<text transform="translate(119.29,416.58) scale(0.8830,1)" font-size="10.10" font-weight="bold" fill="#000">AIR</text>
<text transform="translate(104.02,444.73) scale(0.8830,1)" font-size="10.10" font-weight="bold" fill="#000">ABRASIVE</text>
<text transform="translate(172.39,409.00) scale(0.9983,1)" font-size="7.30" font-weight="bold" fill="#000">(cu ft/min)</text>
<text transform="translate(172.13,423.20) scale(1.0363,1)" font-size="7.30" font-weight="normal" fill="#000">(cu m/min)</text>
<text transform="translate(179.67,437.02) scale(0.9983,1)" font-size="7.30" font-weight="bold" fill="#000">(lb/hr)</text>
<text transform="translate(179.07,450.47) scale(1.0363,1)" font-size="7.30" font-weight="normal" fill="#000">(kg/hr)</text>
<text transform="translate(228.75,410.40) scale(1.0684,1)" font-size="10.80" font-weight="bold" fill="#000">150</text>
<text transform="translate(229.66,424.20) scale(0.9002,1)" font-size="10.20" font-weight="normal" fill="#000" stroke="#000" stroke-width="0.08">4.25</text>
<text transform="translate(228.91,438.52) scale(1.0684,1)" font-size="10.80" font-weight="bold" fill="#000">900</text>
<text transform="translate(230.94,452.27) scale(0.9002,1)" font-size="10.20" font-weight="normal" fill="#000" stroke="#000" stroke-width="0.08">408</text>
<text transform="translate(279.75,410.40) scale(1.0684,1)" font-size="10.80" font-weight="bold" fill="#000">170</text>
<text transform="translate(280.68,424.20) scale(0.9002,1)" font-size="10.20" font-weight="normal" fill="#000" stroke="#000" stroke-width="0.08">4.81</text>
<text transform="translate(276.54,438.52) scale(1.0684,1)" font-size="10.80" font-weight="bold" fill="#000">1000</text>
<text transform="translate(281.87,452.27) scale(0.9002,1)" font-size="10.20" font-weight="normal" fill="#000" stroke="#000" stroke-width="0.08">454</text>
<text transform="translate(330.91,410.40) scale(1.0684,1)" font-size="10.80" font-weight="bold" fill="#000">200</text>
<text transform="translate(331.58,424.20) scale(0.9002,1)" font-size="10.20" font-weight="normal" fill="#000" stroke="#000" stroke-width="0.08">5.66</text>
<text transform="translate(327.54,438.52) scale(1.0684,1)" font-size="10.80" font-weight="bold" fill="#000">1200</text>
<text transform="translate(332.79,452.27) scale(0.9002,1)" font-size="10.20" font-weight="normal" fill="#000" stroke="#000" stroke-width="0.08">544</text>
<text transform="translate(381.84,410.40) scale(1.0684,1)" font-size="10.80" font-weight="bold" fill="#000">215</text>
<text transform="translate(382.56,424.20) scale(0.9002,1)" font-size="10.20" font-weight="normal" fill="#000" stroke="#000" stroke-width="0.08">6.09</text>
<text transform="translate(378.54,438.52) scale(1.0684,1)" font-size="10.80" font-weight="bold" fill="#000">1300</text>
<text transform="translate(383.83,452.27) scale(0.9002,1)" font-size="10.20" font-weight="normal" fill="#000" stroke="#000" stroke-width="0.08">590</text>
<text transform="translate(432.91,410.40) scale(1.0684,1)" font-size="10.80" font-weight="bold" fill="#000">240</text>
<text transform="translate(433.51,424.20) scale(0.9002,1)" font-size="10.20" font-weight="normal" fill="#000" stroke="#000" stroke-width="0.08">6.80</text>
<text transform="translate(429.54,438.52) scale(1.0684,1)" font-size="10.80" font-weight="bold" fill="#000">1400</text>
<text transform="translate(434.81,452.27) scale(0.9002,1)" font-size="10.20" font-weight="normal" fill="#000" stroke="#000" stroke-width="0.08">635</text>
<text transform="translate(483.84,410.40) scale(1.0684,1)" font-size="10.80" font-weight="bold" fill="#000">255</text>
<text transform="translate(484.56,424.20) scale(0.9002,1)" font-size="10.20" font-weight="normal" fill="#000" stroke="#000" stroke-width="0.08">7.22</text>
<text transform="translate(480.54,438.52) scale(1.0684,1)" font-size="10.80" font-weight="bold" fill="#000">1510</text>
<text transform="translate(485.81,452.27) scale(0.9002,1)" font-size="10.20" font-weight="normal" fill="#000" stroke="#000" stroke-width="0.08">703</text>
<text transform="translate(534.91,410.40) scale(1.0684,1)" font-size="10.80" font-weight="bold" fill="#000">315</text>
<text transform="translate(535.59,424.20) scale(0.9002,1)" font-size="10.20" font-weight="normal" fill="#000" stroke="#000" stroke-width="0.08">8.92</text>
<text transform="translate(531.54,438.52) scale(1.0684,1)" font-size="10.80" font-weight="bold" fill="#000">1800</text>
<text transform="translate(536.84,452.27) scale(0.9002,1)" font-size="10.20" font-weight="normal" fill="#000" stroke="#000" stroke-width="0.08">816</text>
<text transform="translate(585.96,410.40) scale(1.0684,1)" font-size="10.80" font-weight="bold" fill="#000">405</text>
<text transform="translate(584.21,424.20) scale(0.9002,1)" font-size="10.20" font-weight="normal" fill="#000" stroke="#000" stroke-width="0.08">11.46</text>
<text transform="translate(582.70,438.52) scale(1.0684,1)" font-size="10.80" font-weight="bold" fill="#000">2540</text>
<text transform="translate(585.51,452.27) scale(0.9002,1)" font-size="10.20" font-weight="normal" fill="#000" stroke="#000" stroke-width="0.08">1152</text>
<path d="M43.10,468.80 L45.20,468.80 L43.30,484.00 L41.20,484.00 Z M47.30,468.80 L49.40,468.80 L47.50,484.00 L45.40,484.00 Z M40.50,472.90 L51.30,472.90 L51.30,474.90 L40.50,474.90 Z M39.70,477.60 L50.30,477.60 L50.30,479.60 L39.70,479.60 Z" fill="#000" shape-rendering="geometricPrecision"/>
<text transform="translate(51.83,484.00) scale(1.1050,1)" font-size="21.80" font-weight="bold" fill="#000">8</text>
<text transform="translate(38.45,492.20) scale(0.9631,1)" font-size="8.30" font-weight="normal" fill="#111" stroke="#111" stroke-width="0.05">1/2 inch</text>
<text transform="translate(34.28,503.00) scale(0.9631,1)" font-size="8.30" font-weight="normal" fill="#111" stroke="#111" stroke-width="0.05">(12.7 mm)</text>
<text transform="translate(119.29,473.09) scale(0.8830,1)" font-size="10.10" font-weight="bold" fill="#000">AIR</text>
<text transform="translate(104.02,501.28) scale(0.8830,1)" font-size="10.10" font-weight="bold" fill="#000">ABRASIVE</text>
<text transform="translate(172.39,465.50) scale(0.9983,1)" font-size="7.30" font-weight="bold" fill="#000">(cu ft/min)</text>
<text transform="translate(172.13,479.72) scale(1.0363,1)" font-size="7.30" font-weight="normal" fill="#000">(cu m/min)</text>
<text transform="translate(179.67,493.56) scale(0.9983,1)" font-size="7.30" font-weight="bold" fill="#000">(lb/hr)</text>
<text transform="translate(179.07,507.03) scale(1.0363,1)" font-size="7.30" font-weight="normal" fill="#000">(kg/hr)</text>
<text transform="translate(228.91,466.90) scale(1.0684,1)" font-size="10.80" font-weight="bold" fill="#000">200</text>
<text transform="translate(229.58,480.72) scale(0.9002,1)" font-size="10.20" font-weight="normal" fill="#000" stroke="#000" stroke-width="0.08">5.66</text>
<text transform="translate(225.54,495.06) scale(1.0684,1)" font-size="10.80" font-weight="bold" fill="#000">1200</text>
<text transform="translate(230.79,508.83) scale(0.9002,1)" font-size="10.20" font-weight="normal" fill="#000" stroke="#000" stroke-width="0.08">544</text>
<text transform="translate(279.84,466.90) scale(1.0684,1)" font-size="10.80" font-weight="bold" fill="#000">225</text>
<text transform="translate(280.57,480.72) scale(0.9002,1)" font-size="10.20" font-weight="normal" fill="#000" stroke="#000" stroke-width="0.08">6.37</text>
<text transform="translate(276.54,495.06) scale(1.0684,1)" font-size="10.80" font-weight="bold" fill="#000">1350</text>
<text transform="translate(281.84,508.83) scale(0.9002,1)" font-size="10.20" font-weight="normal" fill="#000" stroke="#000" stroke-width="0.08">612</text>
<text transform="translate(330.91,466.90) scale(1.0684,1)" font-size="10.80" font-weight="bold" fill="#000">250</text>
<text transform="translate(331.53,480.72) scale(0.9002,1)" font-size="10.20" font-weight="normal" fill="#000" stroke="#000" stroke-width="0.08">7.08</text>
<text transform="translate(327.54,495.06) scale(1.0684,1)" font-size="10.80" font-weight="bold" fill="#000">1500</text>
<text transform="translate(332.79,508.83) scale(0.9002,1)" font-size="10.20" font-weight="normal" fill="#000" stroke="#000" stroke-width="0.08">680</text>
<text transform="translate(381.84,466.90) scale(1.0684,1)" font-size="10.80" font-weight="bold" fill="#000">275</text>
<text transform="translate(382.55,480.72) scale(0.9002,1)" font-size="10.20" font-weight="normal" fill="#000" stroke="#000" stroke-width="0.08">7.79</text>
<text transform="translate(378.54,495.06) scale(1.0684,1)" font-size="10.80" font-weight="bold" fill="#000">1700</text>
<text transform="translate(383.82,508.83) scale(0.9002,1)" font-size="10.20" font-weight="normal" fill="#000" stroke="#000" stroke-width="0.08">771</text>
<text transform="translate(432.98,466.90) scale(1.0684,1)" font-size="10.80" font-weight="bold" fill="#000">300</text>
<text transform="translate(433.54,480.72) scale(0.9002,1)" font-size="10.20" font-weight="normal" fill="#000" stroke="#000" stroke-width="0.08">8.50</text>
<text transform="translate(429.54,495.06) scale(1.0684,1)" font-size="10.80" font-weight="bold" fill="#000">1850</text>
<text transform="translate(434.86,508.83) scale(0.9002,1)" font-size="10.20" font-weight="normal" fill="#000" stroke="#000" stroke-width="0.08">839</text>
<text transform="translate(483.98,466.90) scale(1.0684,1)" font-size="10.80" font-weight="bold" fill="#000">340</text>
<text transform="translate(484.56,480.72) scale(0.9002,1)" font-size="10.20" font-weight="normal" fill="#000" stroke="#000" stroke-width="0.08">9.63</text>
<text transform="translate(480.63,495.06) scale(1.0684,1)" font-size="10.80" font-weight="bold" fill="#000">2025</text>
<text transform="translate(485.85,508.83) scale(0.9002,1)" font-size="10.20" font-weight="normal" fill="#000" stroke="#000" stroke-width="0.08">919</text>
<text transform="translate(535.03,466.90) scale(1.0684,1)" font-size="10.80" font-weight="bold" fill="#000">430</text>
<text transform="translate(532.87,480.72) scale(0.9002,1)" font-size="10.20" font-weight="normal" fill="#000" stroke="#000" stroke-width="0.08">12.18</text>
<text transform="translate(531.63,495.06) scale(1.0684,1)" font-size="10.80" font-weight="bold" fill="#000">2525</text>
<text transform="translate(534.47,508.83) scale(0.9002,1)" font-size="10.20" font-weight="normal" fill="#000" stroke="#000" stroke-width="0.08">1145</text>
<text transform="translate(585.93,466.90) scale(1.0684,1)" font-size="10.80" font-weight="bold" fill="#000">540</text>
<text transform="translate(583.87,480.72) scale(0.9002,1)" font-size="10.20" font-weight="normal" fill="#000" stroke="#000" stroke-width="0.08">15.28</text>
<text transform="translate(582.77,495.06) scale(1.0684,1)" font-size="10.80" font-weight="bold" fill="#000">3240</text>
<text transform="translate(585.11,508.83) scale(0.9002,1)" font-size="10.20" font-weight="normal" fill="#000" stroke="#000" stroke-width="0.08">1470</text>
<path d="M36.00,526.40 L38.10,526.40 L36.20,541.60 L34.10,541.60 Z M40.20,526.40 L42.30,526.40 L40.40,541.60 L38.30,541.60 Z M33.40,530.50 L44.20,530.50 L44.20,532.50 L33.40,532.50 Z M32.60,535.20 L43.20,535.20 L43.20,537.20 L32.60,537.20 Z" fill="#000" shape-rendering="geometricPrecision"/>
<path d="M50.50,526.40 L54.00,526.40 L54.00,541.60 L50.50,541.60 L50.50,529.40 L46.90,530.40 L46.70,528.10 Z" fill="#000" shape-rendering="geometricPrecision"/>
<text transform="translate(57.84,541.60) scale(1.2142,1)" font-size="21.80" font-weight="bold" fill="#000">0</text>
<text transform="translate(38.60,548.70) scale(0.9631,1)" font-size="8.30" font-weight="normal" fill="#111" stroke="#111" stroke-width="0.05">5/8 inch</text>
<text transform="translate(37.62,559.00) scale(0.9631,1)" font-size="8.30" font-weight="normal" fill="#111" stroke="#111" stroke-width="0.05">(16 mm)</text>
<text transform="translate(119.29,529.90) scale(0.8830,1)" font-size="10.10" font-weight="bold" fill="#000">AIR</text>
<text transform="translate(104.02,558.58) scale(0.8830,1)" font-size="10.10" font-weight="bold" fill="#000">ABRASIVE</text>
<text transform="translate(172.39,522.19) scale(0.9983,1)" font-size="7.30" font-weight="bold" fill="#000">(cu ft/min)</text>
<text transform="translate(172.13,536.66) scale(1.0363,1)" font-size="7.30" font-weight="normal" fill="#000">(cu m/min)</text>
<text transform="translate(179.67,550.74) scale(0.9983,1)" font-size="7.30" font-weight="bold" fill="#000">(lb/hr)</text>
<text transform="translate(179.07,564.45) scale(1.0363,1)" font-size="7.30" font-weight="normal" fill="#000">(kg/hr)</text>
<text transform="translate(228.98,523.59) scale(1.0684,1)" font-size="10.80" font-weight="bold" fill="#000">300</text>
<text transform="translate(229.54,537.66) scale(0.9002,1)" font-size="10.20" font-weight="normal" fill="#000" stroke="#000" stroke-width="0.08">8.50</text>
<text transform="translate(225.54,552.24) scale(1.0684,1)" font-size="10.80" font-weight="bold" fill="#000">1900</text>
<text transform="translate(230.87,566.25) scale(0.9002,1)" font-size="10.20" font-weight="normal" fill="#000" stroke="#000" stroke-width="0.08">862</text>
<text transform="translate(279.98,523.59) scale(1.0684,1)" font-size="10.80" font-weight="bold" fill="#000">350</text>
<text transform="translate(280.57,537.66) scale(0.9002,1)" font-size="10.20" font-weight="normal" fill="#000" stroke="#000" stroke-width="0.08">9.91</text>
<text transform="translate(276.70,552.24) scale(1.0684,1)" font-size="10.80" font-weight="bold" fill="#000">2200</text>
<text transform="translate(281.83,566.25) scale(0.9002,1)" font-size="10.20" font-weight="normal" fill="#000" stroke="#000" stroke-width="0.08">998</text>
<text transform="translate(331.03,523.59) scale(1.0684,1)" font-size="10.80" font-weight="bold" fill="#000">400</text>
<text transform="translate(329.21,537.66) scale(0.9002,1)" font-size="10.20" font-weight="normal" fill="#000" stroke="#000" stroke-width="0.08">11.33</text>
<text transform="translate(327.70,552.24) scale(1.0684,1)" font-size="10.80" font-weight="bold" fill="#000">2400</text>
<text transform="translate(330.16,566.25) scale(0.9002,1)" font-size="10.20" font-weight="normal" fill="#000" stroke="#000" stroke-width="0.08">1089</text>
<text transform="translate(382.03,523.59) scale(1.0684,1)" font-size="10.80" font-weight="bold" fill="#000">450</text>
<text transform="translate(379.79,537.66) scale(0.9002,1)" font-size="10.20" font-weight="normal" fill="#000" stroke="#000" stroke-width="0.08">12.74</text>
<text transform="translate(378.70,552.24) scale(1.0684,1)" font-size="10.80" font-weight="bold" fill="#000">2700</text>
<text transform="translate(381.13,566.25) scale(0.9002,1)" font-size="10.20" font-weight="normal" fill="#000" stroke="#000" stroke-width="0.08">1225</text>
<text transform="translate(432.93,523.59) scale(1.0684,1)" font-size="10.80" font-weight="bold" fill="#000">500</text>
<text transform="translate(430.87,537.66) scale(0.9002,1)" font-size="10.20" font-weight="normal" fill="#000" stroke="#000" stroke-width="0.08">14.16</text>
<text transform="translate(429.77,552.24) scale(1.0684,1)" font-size="10.80" font-weight="bold" fill="#000">3000</text>
<text transform="translate(432.16,566.25) scale(0.9002,1)" font-size="10.20" font-weight="normal" fill="#000" stroke="#000" stroke-width="0.08">1361</text>
<text transform="translate(483.93,523.59) scale(1.0684,1)" font-size="10.80" font-weight="bold" fill="#000">550</text>
<text transform="translate(481.87,537.66) scale(0.9002,1)" font-size="10.20" font-weight="normal" fill="#000" stroke="#000" stroke-width="0.08">15.58</text>
<text transform="translate(480.77,552.24) scale(1.0684,1)" font-size="10.80" font-weight="bold" fill="#000">3300</text>
<text transform="translate(483.17,566.25) scale(0.9002,1)" font-size="10.20" font-weight="normal" fill="#000" stroke="#000" stroke-width="0.08">1497</text>
<text transform="translate(534.87,523.59) scale(1.0684,1)" font-size="10.80" font-weight="bold" fill="#000">700</text>
<text transform="translate(532.89,537.66) scale(0.9002,1)" font-size="10.20" font-weight="normal" fill="#000" stroke="#000" stroke-width="0.08">19.82</text>
<text transform="translate(531.82,552.24) scale(1.0684,1)" font-size="10.80" font-weight="bold" fill="#000">4000</text>
<text transform="translate(534.07,566.25) scale(0.9002,1)" font-size="10.20" font-weight="normal" fill="#000" stroke="#000" stroke-width="0.08">1814</text>
<text transform="translate(585.92,523.59) scale(1.0684,1)" font-size="10.80" font-weight="bold" fill="#000">880</text>
<text transform="translate(583.96,537.66) scale(0.9002,1)" font-size="10.20" font-weight="normal" fill="#000" stroke="#000" stroke-width="0.08">24.90</text>
<text transform="translate(582.73,552.24) scale(1.0684,1)" font-size="10.80" font-weight="bold" fill="#000">5200</text>
<text transform="translate(585.28,566.25) scale(0.9002,1)" font-size="10.20" font-weight="normal" fill="#000" stroke="#000" stroke-width="0.08">2359</text>
<path d="M36.00,582.90 L38.10,582.90 L36.20,598.10 L34.10,598.10 Z M40.20,582.90 L42.30,582.90 L40.40,598.10 L38.30,598.10 Z M33.40,587.00 L44.20,587.00 L44.20,589.00 L33.40,589.00 Z M32.60,591.70 L43.20,591.70 L43.20,593.70 L32.60,593.70 Z" fill="#000" shape-rendering="geometricPrecision"/>
<path d="M50.50,582.90 L54.00,582.90 L54.00,598.10 L50.50,598.10 L50.50,585.90 L46.90,586.90 L46.70,584.60 Z" fill="#000" shape-rendering="geometricPrecision"/>
<text transform="translate(58.01,598.10) scale(1.1991,1)" font-size="21.80" font-weight="bold" fill="#000">2</text>
<text transform="translate(38.61,606.50) scale(0.9631,1)" font-size="8.30" font-weight="normal" fill="#111" stroke="#111" stroke-width="0.05">3/4 inch</text>
<text transform="translate(37.62,617.00) scale(0.9631,1)" font-size="8.30" font-weight="normal" fill="#111" stroke="#111" stroke-width="0.05">(19 mm)</text>
<text transform="translate(119.29,587.24) scale(0.8830,1)" font-size="10.10" font-weight="bold" fill="#000">AIR</text>
<text transform="translate(104.02,615.48) scale(0.8830,1)" font-size="10.10" font-weight="bold" fill="#000">ABRASIVE</text>
<text transform="translate(172.39,579.63) scale(0.9983,1)" font-size="7.30" font-weight="bold" fill="#000">(cu ft/min)</text>
<text transform="translate(172.13,593.88) scale(1.0363,1)" font-size="7.30" font-weight="normal" fill="#000">(cu m/min)</text>
<text transform="translate(179.67,607.75) scale(0.9983,1)" font-size="7.30" font-weight="bold" fill="#000">(lb/hr)</text>
<text transform="translate(179.07,621.24) scale(1.0363,1)" font-size="7.30" font-weight="normal" fill="#000">(kg/hr)</text>
<text transform="translate(229.03,581.03) scale(1.0684,1)" font-size="10.80" font-weight="bold" fill="#000">430</text>
<text transform="translate(226.87,594.88) scale(0.9002,1)" font-size="10.20" font-weight="normal" fill="#000" stroke="#000" stroke-width="0.08">12.18</text>
<text transform="translate(225.70,609.25) scale(1.0684,1)" font-size="10.80" font-weight="bold" fill="#000">2700</text>
<text transform="translate(228.13,623.04) scale(0.9002,1)" font-size="10.20" font-weight="normal" fill="#000" stroke="#000" stroke-width="0.08">1225</text>
<text transform="translate(279.93,581.03) scale(1.0684,1)" font-size="10.80" font-weight="bold" fill="#000">500</text>
<text transform="translate(277.87,594.88) scale(0.9002,1)" font-size="10.20" font-weight="normal" fill="#000" stroke="#000" stroke-width="0.08">14.16</text>
<text transform="translate(276.77,609.25) scale(1.0684,1)" font-size="10.80" font-weight="bold" fill="#000">3100</text>
<text transform="translate(279.14,623.04) scale(0.9002,1)" font-size="10.20" font-weight="normal" fill="#000" stroke="#000" stroke-width="0.08">1406</text>
<text transform="translate(330.87,581.03) scale(1.0684,1)" font-size="10.80" font-weight="bold" fill="#000">575</text>
<text transform="translate(328.87,594.88) scale(0.9002,1)" font-size="10.20" font-weight="normal" fill="#000" stroke="#000" stroke-width="0.08">16.28</text>
<text transform="translate(327.77,609.25) scale(1.0684,1)" font-size="10.80" font-weight="bold" fill="#000">3500</text>
<text transform="translate(330.14,623.04) scale(0.9002,1)" font-size="10.20" font-weight="normal" fill="#000" stroke="#000" stroke-width="0.08">1588</text>
<text transform="translate(381.90,581.03) scale(1.0684,1)" font-size="10.80" font-weight="bold" fill="#000">650</text>
<text transform="translate(379.88,594.88) scale(0.9002,1)" font-size="10.20" font-weight="normal" fill="#000" stroke="#000" stroke-width="0.08">18.41</text>
<text transform="translate(378.77,609.25) scale(1.0684,1)" font-size="10.80" font-weight="bold" fill="#000">3900</text>
<text transform="translate(381.16,623.04) scale(0.9002,1)" font-size="10.20" font-weight="normal" fill="#000" stroke="#000" stroke-width="0.08">1769</text>
<text transform="translate(432.87,581.03) scale(1.0684,1)" font-size="10.80" font-weight="bold" fill="#000">700</text>
<text transform="translate(430.89,594.88) scale(0.9002,1)" font-size="10.20" font-weight="normal" fill="#000" stroke="#000" stroke-width="0.08">19.82</text>
<text transform="translate(429.82,609.25) scale(1.0684,1)" font-size="10.80" font-weight="bold" fill="#000">4300</text>
<text transform="translate(432.11,623.04) scale(0.9002,1)" font-size="10.20" font-weight="normal" fill="#000" stroke="#000" stroke-width="0.08">1950</text>
<text transform="translate(483.92,581.03) scale(1.0684,1)" font-size="10.80" font-weight="bold" fill="#000">800</text>
<text transform="translate(481.99,594.88) scale(0.9002,1)" font-size="10.20" font-weight="normal" fill="#000" stroke="#000" stroke-width="0.08">22.66</text>
<text transform="translate(480.82,609.25) scale(1.0684,1)" font-size="10.80" font-weight="bold" fill="#000">4700</text>
<text transform="translate(483.29,623.04) scale(0.9002,1)" font-size="10.20" font-weight="normal" fill="#000" stroke="#000" stroke-width="0.08">2132</text>
<text transform="translate(531.85,581.03) scale(1.0684,1)" font-size="10.80" font-weight="bold" fill="#000">1100</text>
<text transform="translate(533.03,594.88) scale(0.9002,1)" font-size="10.20" font-weight="normal" fill="#000" stroke="#000" stroke-width="0.08">31.15</text>
<text transform="translate(531.73,609.25) scale(1.0684,1)" font-size="10.80" font-weight="bold" fill="#000">5700</text>
<text transform="translate(534.26,623.04) scale(0.9002,1)" font-size="10.20" font-weight="normal" fill="#000" stroke="#000" stroke-width="0.08">2586</text>
<text transform="translate(582.47,581.03) scale(1.0684,1)" font-size="10.80" font-weight="bold" fill="#000">1255</text>
<text transform="translate(584.07,594.88) scale(0.9002,1)" font-size="10.20" font-weight="normal" fill="#000" stroke="#000" stroke-width="0.08">35.52</text>
<text transform="translate(582.59,609.25) scale(1.0684,1)" font-size="10.80" font-weight="bold" fill="#000">7375</text>
<text transform="translate(585.31,623.04) scale(0.9002,1)" font-size="10.20" font-weight="normal" fill="#000" stroke="#000" stroke-width="0.08">3345</text>
<text transform="translate(17.34,638.80) scale(0.7458,1)" font-size="9.60" font-weight="normal" fill="#000" stroke="#000" stroke-width="0.2">This table is to be used as reference only. Actual results may vary depending on specific abrasive media used. This table is based on abrasive with a bulk density of 100 pounds per cubic foot.</text>
</svg>
</body></html>
